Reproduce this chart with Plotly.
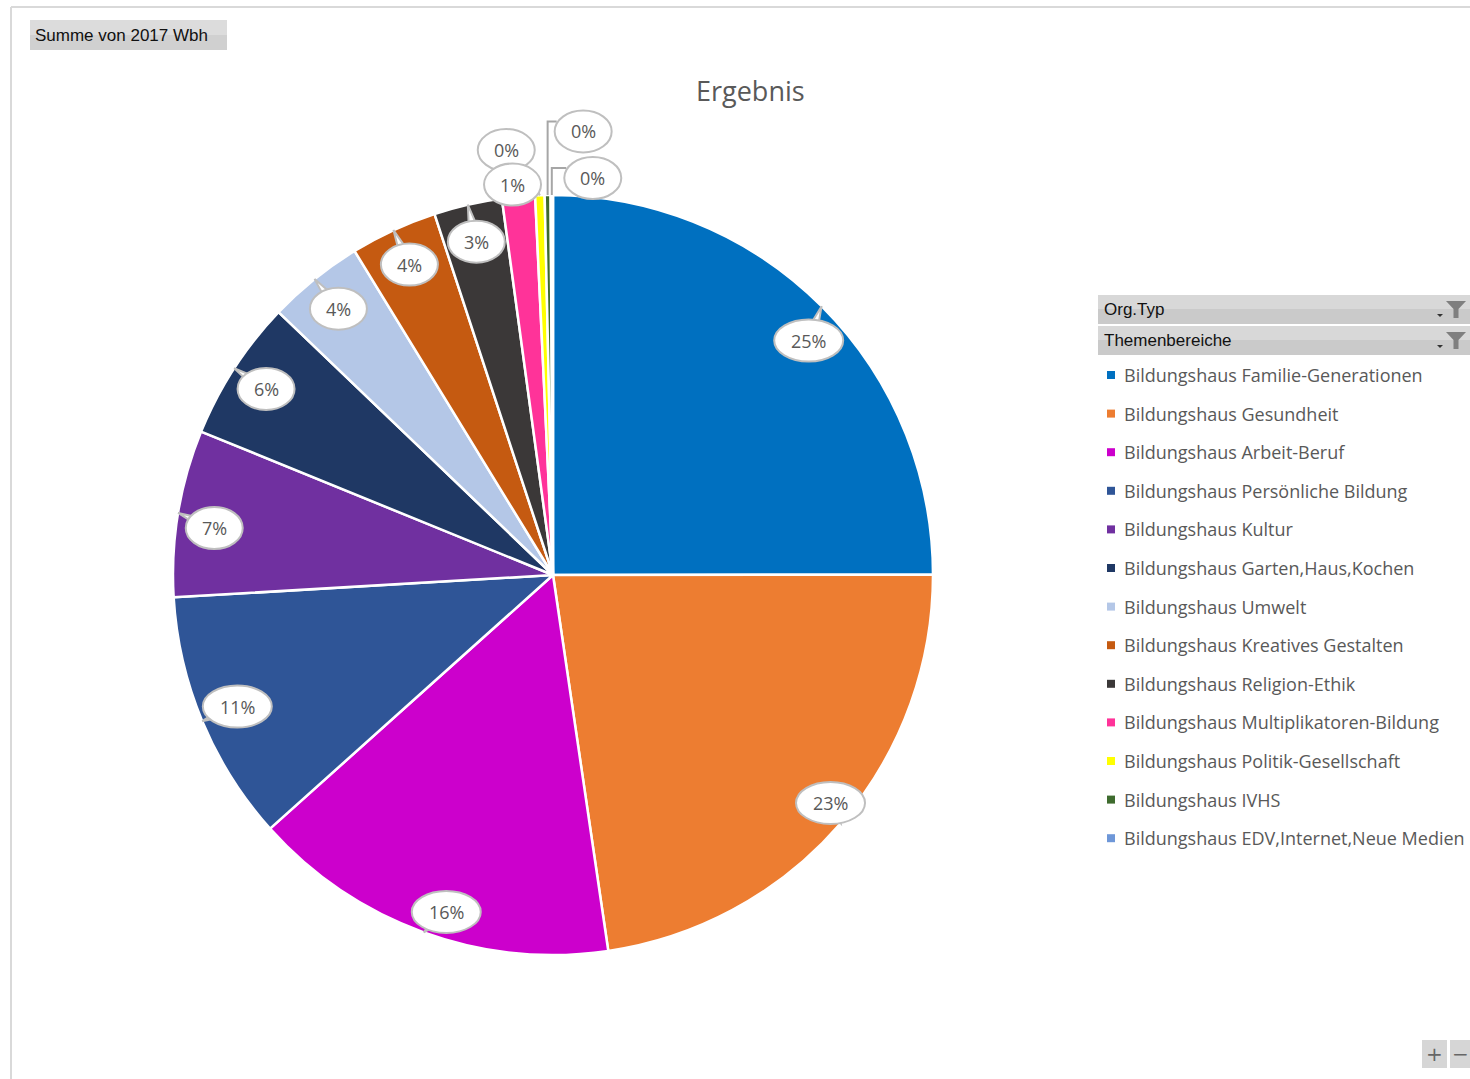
import math
import plotly.graph_objects as go

# ---------------- data ----------------
categories = [
    "Bildungshaus Familie-Generationen",
    "Bildungshaus Gesundheit",
    "Bildungshaus Arbeit-Beruf",
    "Bildungshaus Persönliche Bildung",
    "Bildungshaus Kultur",
    "Bildungshaus Garten,Haus,Kochen",
    "Bildungshaus Umwelt",
    "Bildungshaus Kreatives Gestalten",
    "Bildungshaus Religion-Ethik",
    "Bildungshaus Multiplikatoren-Bildung",
    "Bildungshaus Politik-Gesellschaft",
    "Bildungshaus IVHS",
    "Bildungshaus EDV,Internet,Neue Medien",
]
wbh_2017 = [2500, 2270, 1570, 1070, 710, 600, 410, 370, 290, 140, 40, 25, 10]
colors = ["#0070C0", "#ED7D31", "#CC00CC", "#2F5597", "#7030A0", "#1F3864",
          "#B4C7E7", "#C55A11", "#3B3838", "#FF3399", "#FFFF00", "#3E6B2E", "#6E97D8"]
title_text = "Ergebnis"
button_text = "Summe von 2017 Wbh"
filter_headers = ["Org.Typ", "Themenbereiche"]

# ---------------- geometry / style ----------------
W, H = 1470, 1079
CX, CY, R = 553, 575, 380
LABEL_R = 0.9
# label placement tweaks: index -> (radius factor, angle offset deg, leader)
special = {0: (0.913, 2.5, False), 1: (0.945, -1.4, False), 2: (0.93, -2.3, False),
           4: (0.9, -1.5, False),
           9: (1.033, -0.7, False), 10: (1.125, -4.3, False),
           11: (1.17, 4.7, True), 12: (1.05, 5.9, True)}
GRAY_TXT = "#595959"
BUB_LINE = "#BFBFBF"


def px(x):
    return x / W


def py(y):
    return 1 - y / H


def polar(r, a):
    return CX + r * math.sin(math.radians(a)), CY - r * math.cos(math.radians(a))


fig = go.Figure()
fig.add_trace(go.Pie(
    labels=categories, values=wbh_2017, sort=False, direction="clockwise", rotation=0,
    marker=dict(colors=colors, line=dict(color="white", width=2.5)),
    textinfo="none", showlegend=False, hoverinfo="label+value+percent",
    domain=dict(x=[px(CX - R), px(CX + R)], y=[py(CY + R), py(CY - R)]),
))

shapes = []
annotations = []

# frame lines
shapes.append(dict(type="line", xref="paper", yref="paper", x0=px(11), x1=px(W), y0=py(7), y1=py(7),
                   line=dict(color="#D9D9D9", width=2)))
shapes.append(dict(type="line", xref="paper", yref="paper", x0=px(11), x1=px(11), y0=py(7), y1=py(H),
                   line=dict(color="#D9D9D9", width=2)))

# top-left button (two-tone for a light gradient)
shapes.append(dict(type="rect", xref="paper", yref="paper", x0=px(30), x1=px(227), y0=py(50), y1=py(20),
                   fillcolor="#D0D0D0", line=dict(width=0)))
shapes.append(dict(type="rect", xref="paper", yref="paper", x0=px(30), x1=px(227), y0=py(35), y1=py(20),
                   fillcolor="#DCDCDC", line=dict(width=0)))
annotations.append(dict(text=button_text, xref="paper", yref="paper", x=px(33), y=py(36),
                        xanchor="left", yanchor="middle", showarrow=False,
                        font=dict(family="Liberation Sans", size=17, color="#111111")))

# title
annotations.append(dict(text=title_text, xref="paper", yref="paper", x=px(751), y=py(90),
                        xanchor="center", yanchor="middle", showarrow=False,
                        font=dict(family="Open Sans", size=27, color=GRAY_TXT)))

# ---------------- data labels (callouts) ----------------
total = sum(wbh_2017)
cum = 0.0
label_shapes_back = []
label_shapes_front = []
for i, v in enumerate(wbh_2017):
    a0 = cum / total * 360
    cum += v
    a1 = cum / total * 360
    mid = (a0 + a1) / 2
    txt = f"{round(100 * v / total)}%"
    rf, off, leader = special.get(i, (LABEL_R, 0.0, False))
    lx, ly = polar(rf * R, mid + off)
    bw = 33 + 12 * len(txt)
    bh = 42
    group = []
    tipx, tipy = polar(R, mid)
    if leader:
        top_y = ly - 10
        left_x = lx - bw / 2 + 2
        group.append(dict(type="path", xref="paper", yref="paper",
                          path=f"M {px(tipx)},{py(tipy)} L {px(tipx)},{py(top_y)} L {px(left_x)},{py(top_y)}",
                          line=dict(color="#A6A6A6", width=2)))
    else:
        dx, dy = tipx - lx, tipy - ly
        d = math.hypot(dx, dy) or 1
        nx, ny = -dy / d * 7, dx / d * 7
        group.append(dict(type="path", xref="paper", yref="paper",
                          path=(f"M {px(lx + nx)},{py(ly + ny)} L {px(tipx)},{py(tipy)} "
                                f"L {px(lx - nx)},{py(ly - ny)} Z"),
                          fillcolor="white", line=dict(color=BUB_LINE, width=2)))
    group.append(dict(type="circle", xref="paper", yref="paper",
                      x0=px(lx - bw / 2), x1=px(lx + bw / 2), y0=py(ly + bh / 2), y1=py(ly - bh / 2),
                      fillcolor="white", line=dict(color=BUB_LINE, width=2)))
    if i == 10:
        label_shapes_back.extend(group)
    else:
        label_shapes_front.extend(group)
    annotations.append(dict(text=txt, xref="paper", yref="paper", x=px(lx), y=py(ly),
                            xanchor="center", yanchor="middle", showarrow=False,
                            font=dict(family="Open Sans", size=18, color=GRAY_TXT)))
shapes.extend(label_shapes_back)
shapes.extend(label_shapes_front)

# ---------------- filter header bars ----------------
for k, hdr in enumerate(filter_headers):
    y0 = 295 + k * 31
    y1 = y0 + 29
    shapes.append(dict(type="rect", xref="paper", yref="paper", x0=px(1098), x1=px(W), y0=py(y1), y1=py(y0),
                       fillcolor="#CACACA", line=dict(width=0)))
    shapes.append(dict(type="rect", xref="paper", yref="paper", x0=px(1098), x1=px(W), y0=py(y0 + 14),
                       y1=py(y0), fillcolor="#D8D8D8", line=dict(width=0)))
    annotations.append(dict(text=hdr, xref="paper", yref="paper", x=px(1102), y=py(y0 + 15),
                            xanchor="left", yanchor="middle", showarrow=False,
                            font=dict(family="Liberation Sans", size=17, color="#111111")))
    # funnel icon
    fx, fy = 1446, y0 + 6
    shapes.append(dict(type="path", xref="paper", yref="paper",
                       path=(f"M {px(fx)},{py(fy)} L {px(fx + 20)},{py(fy)} L {px(fx + 12.5)},{py(fy + 8)} "
                             f"L {px(fx + 12.5)},{py(fy + 17)} L {px(fx + 7.5)},{py(fy + 17)} "
                             f"L {px(fx + 7.5)},{py(fy + 8)} Z"),
                       fillcolor="#7F7F7F", line=dict(width=0)))
    shapes.append(dict(type="path", xref="paper", yref="paper",
                       path=(f"M {px(fx - 9)},{py(fy + 13)} L {px(fx - 3)},{py(fy + 13)} "
                             f"L {px(fx - 6)},{py(fy + 16)} Z"),
                       fillcolor="#333333", line=dict(width=0)))

# ---------------- legend ----------------
LEG_Y0, LEG_DY = 375, 38.6
for i, (cat, col) in enumerate(zip(categories, colors)):
    yy = LEG_Y0 + i * LEG_DY
    shapes.append(dict(type="rect", xref="paper", yref="paper", x0=px(1107), x1=px(1115),
                       y0=py(yy + 4), y1=py(yy - 4), fillcolor=col, line=dict(width=0)))
    annotations.append(dict(text=cat, xref="paper", yref="paper", x=px(1122), y=py(yy),
                            xanchor="left", yanchor="middle", showarrow=False,
                            font=dict(family="Open Sans", size=18, color=GRAY_TXT)))

# ---------------- zoom buttons ----------------
for x0, x1, sym in [(1422, 1447, "+"), (1450, 1470, "−")]:
    shapes.append(dict(type="rect", xref="paper", yref="paper", x0=px(x0), x1=px(x1),
                       y0=py(1068), y1=py(1040), fillcolor="#D6D6D6", line=dict(width=0)))
    annotations.append(dict(text=sym, xref="paper", yref="paper", x=px((x0 + x1) / 2), y=py(1054),
                            xanchor="center", yanchor="middle", showarrow=False,
                            font=dict(family="DejaVu Sans", size=20, color="#666666")))

fig.update_layout(
    width=W, height=H, margin=dict(l=0, r=0, t=0, b=0),
    paper_bgcolor="white", plot_bgcolor="white",
    shapes=shapes, annotations=annotations, showlegend=False,
)
fig.write_html("out.html", config={"displayModeBar": False},
               post_script="document.body.style.margin='0px';document.body.style.overflow='hidden';")
